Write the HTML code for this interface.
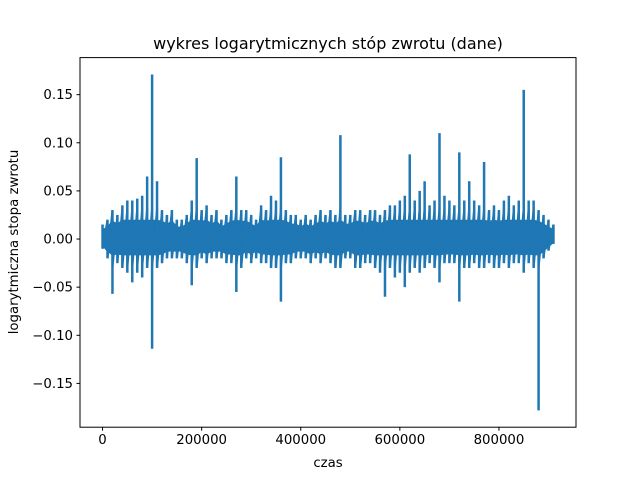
<!DOCTYPE html>
<html><head><meta charset="utf-8"><style>
body{margin:0;background:#fff}
svg{font-family:"DejaVu Sans","Liberation Sans",sans-serif}
</style></head><body>
<svg id="chart" width="640" height="480" viewBox="0 0 640 480">
<rect width="640" height="480" fill="#fff"/>
<text x="328" y="49" font-size="16" text-anchor="middle">wykres logarytmicznych stóp zwrotu (dane)</text>
<text x="328" y="467" font-size="13.3" text-anchor="middle">czas</text>
<text x="18" y="242" font-size="13.3" text-anchor="middle" transform="rotate(-90 18 242)">logarytmiczna stopa zwrotu</text>
<g id="marks"></g>
<g id="axes"></g>
<rect x="80" y="57.6" width="496" height="369.6" fill="none" stroke="#000" stroke-width="1"/>
</svg>
<script>
const times=[0,10000,20000,30000,40000,50000,60000,70000,80000,90000,100000,110000,120000,130000,140000,150000,160000,170000,180000,190000,200000,210000,220000,230000,240000,250000,260000,270000,280000,290000,300000,310000,320000,330000,340000,350000,360000,370000,380000,390000,400000,410000,420000,430000,440000,450000,460000,470000,480000,490000,500000,510000,520000,530000,540000,550000,560000,570000,580000,590000,600000,610000,620000,630000,640000,650000,660000,670000,680000,690000,700000,710000,720000,730000,740000,750000,760000,770000,780000,790000,800000,810000,820000,830000,840000,850000,860000,870000,880000,890000,900000,910000];
const highs=[0.015,0.02,0.03,0.025,0.035,0.04,0.04,0.042,0.045,0.065,0.171,0.06,0.03,0.025,0.03,0.02,0.02,0.025,0.04,0.084,0.03,0.035,0.025,0.03,0.02,0.025,0.03,0.065,0.03,0.03,0.025,0.02,0.035,0.03,0.045,0.04,0.085,0.03,0.025,0.025,0.02,0.025,0.02,0.025,0.03,0.025,0.03,0.025,0.108,0.025,0.025,0.03,0.03,0.025,0.03,0.03,0.025,0.03,0.035,0.035,0.04,0.045,0.088,0.04,0.05,0.06,0.035,0.04,0.11,0.045,0.04,0.035,0.09,0.04,0.06,0.04,0.035,0.08,0.03,0.035,0.03,0.04,0.045,0.035,0.04,0.155,0.04,0.04,0.03,0.025,0.02,0.015];
const lows=[-0.01,-0.02,-0.057,-0.025,-0.03,-0.035,-0.045,-0.035,-0.04,-0.03,-0.114,-0.03,-0.025,-0.02,-0.02,-0.02,-0.02,-0.025,-0.048,-0.03,-0.02,-0.025,-0.02,-0.02,-0.02,-0.025,-0.025,-0.055,-0.03,-0.02,-0.025,-0.02,-0.025,-0.025,-0.03,-0.03,-0.065,-0.025,-0.025,-0.02,-0.02,-0.02,-0.025,-0.02,-0.025,-0.02,-0.025,-0.03,-0.03,-0.02,-0.02,-0.03,-0.03,-0.025,-0.025,-0.03,-0.035,-0.06,-0.03,-0.04,-0.035,-0.05,-0.035,-0.03,-0.035,-0.03,-0.025,-0.03,-0.045,-0.025,-0.025,-0.025,-0.065,-0.03,-0.03,-0.025,-0.03,-0.03,-0.025,-0.03,-0.03,-0.025,-0.03,-0.025,-0.025,-0.035,-0.025,-0.03,-0.178,-0.02,-0.012,-0.005];
const xTicks=[0,200000,400000,600000,800000];
const yTicks=[0.15,0.10,0.05,0.00,-0.05,-0.10,-0.15];
const yTickLabels=["0.15","0.10","0.05","0.00","\u22120.05","\u22120.10","\u22120.15"];

const L=80,R=576,T=57.6,B=427.2;
const x0=-45500,x1=955500,y0=-0.1955,y1=0.1885;
const sx=v=>L+(v-x0)/(x1-x0)*(R-L);
const sy=v=>B-(v-y0)/(y1-y0)*(B-T);
const NS="http://www.w3.org/2000/svg";
const marks=document.getElementById('marks');
const axes=document.getElementById('axes');
const C="#1f77b4";
let up=times.map((t,i)=>sx(t)+","+sy(Math.min(highs[i]*0.6,0.019)));
let dn=times.map((t,i)=>sx(t)+","+sy(Math.max(lows[i]*0.6,-0.016))).reverse();
const poly=document.createElementNS(NS,'polygon');
poly.setAttribute('points',up.concat(dn).join(' '));
poly.setAttribute('fill',C);
poly.setAttribute('stroke',C);
poly.setAttribute('stroke-width','2');
poly.setAttribute('stroke-linejoin','round');


marks.appendChild(poly);
const zz=[];
times.forEach((t,i)=>{zz.push(sx(t)+","+sy(Math.min(highs[i],0.032)));zz.push(sx(t)+","+sy(Math.max(lows[i],-0.03)));});
const pl=document.createElementNS(NS,'polyline');
pl.setAttribute('points',zz.join(' '));
pl.setAttribute('fill','none');
pl.setAttribute('stroke',C);
pl.setAttribute('stroke-width','2');


marks.appendChild(pl);
times.forEach((t,i)=>{
  const l=document.createElementNS(NS,'line');
  l.setAttribute('x1',sx(t));l.setAttribute('x2',sx(t));
  l.setAttribute('y1',sy(highs[i]));l.setAttribute('y2',sy(lows[i]));
  l.setAttribute('stroke',C);l.setAttribute('stroke-width','2.5');
  
  
  marks.appendChild(l);
});
xTicks.forEach(v=>{
  const l=document.createElementNS(NS,'line');
  l.setAttribute('x1',sx(v));l.setAttribute('x2',sx(v));l.setAttribute('y1',B);l.setAttribute('y2',B+3.5);l.setAttribute('stroke','#000');
  
  
  axes.appendChild(l);
  const tx=document.createElementNS(NS,'text');
  tx.setAttribute('x',sx(v));tx.setAttribute('y',B+17);tx.setAttribute('font-size','13.3');tx.setAttribute('text-anchor','middle');
  tx.textContent=String(v);
  
  
  axes.appendChild(tx);
});
yTicks.forEach((v,i)=>{
  const l=document.createElementNS(NS,'line');
  l.setAttribute('x1',L-3.5);l.setAttribute('x2',L);l.setAttribute('y1',sy(v));l.setAttribute('y2',sy(v));l.setAttribute('stroke','#000');
  
  
  axes.appendChild(l);
  const tx=document.createElementNS(NS,'text');
  tx.setAttribute('x',L-7);tx.setAttribute('y',sy(v)+4.5);tx.setAttribute('font-size','13.3');tx.setAttribute('text-anchor','end');
  tx.textContent=yTickLabels[i];
  
  
  axes.appendChild(tx);
});
</script>
</body></html>
